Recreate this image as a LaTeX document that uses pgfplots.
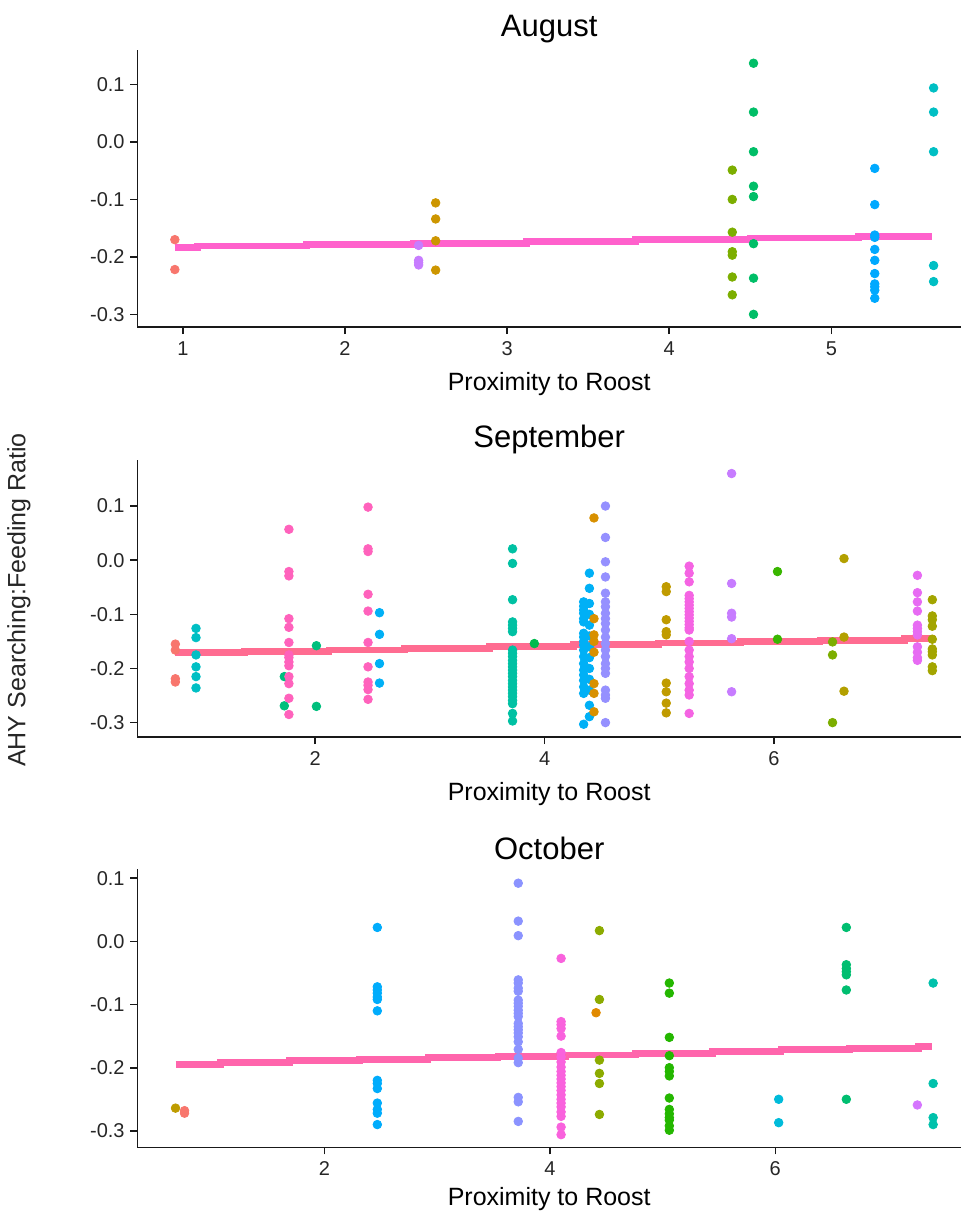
\documentclass[border=0pt]{standalone}
\usepackage{fontspec}
\setmainfont{Liberation Sans}
\usepackage{pgfplots}
\pgfplotsset{compat=1.18}

\definecolor{cF8766D}{HTML}{F8766D}
\definecolor{cC77CFF}{HTML}{C77CFF}
\definecolor{cCD9600}{HTML}{CD9600}
\definecolor{c7CAE00}{HTML}{7CAE00}
\definecolor{c00BE67}{HTML}{00BE67}
\definecolor{c00A9FF}{HTML}{00A9FF}
\definecolor{c00BFC4}{HTML}{00BFC4}
\definecolor{cFF61CC}{HTML}{FF61CC}
\definecolor{c00BF7D}{HTML}{00BF7D}
\definecolor{cFF62BC}{HTML}{FF62BC}
\definecolor{c00B0F6}{HTML}{00B0F6}
\definecolor{c00C1A3}{HTML}{00C1A3}
\definecolor{c00BB4E}{HTML}{00BB4E}
\definecolor{cD89000}{HTML}{D89000}
\definecolor{c9590FF}{HTML}{9590FF}
\definecolor{cC09B00}{HTML}{C09B00}
\definecolor{cF564E3}{HTML}{F564E3}
\definecolor{c39B600}{HTML}{39B600}
\definecolor{cB3A000}{HTML}{B3A000}
\definecolor{cE76BF3}{HTML}{E76BF3}
\definecolor{cA3A500}{HTML}{A3A500}
\definecolor{cFF6C91}{HTML}{FF6C91}
\definecolor{cBE9C00}{HTML}{BE9C00}
\definecolor{c00ACFC}{HTML}{00ACFC}
\definecolor{c8B93FF}{HTML}{8B93FF}
\definecolor{cF962DD}{HTML}{F962DD}
\definecolor{c8CAB00}{HTML}{8CAB00}
\definecolor{cE18A00}{HTML}{E18A00}
\definecolor{c24B700}{HTML}{24B700}
\definecolor{c00BBDA}{HTML}{00BBDA}
\definecolor{c00BE70}{HTML}{00BE70}
\definecolor{cD575FE}{HTML}{D575FE}
\definecolor{c00C1AB}{HTML}{00C1AB}
\definecolor{cFF65AC}{HTML}{FF65AC}

\pgfplotsset{
  panel/.style={
    scale only axis, width=411.8pt, height=138.5pt,
    axis lines=left, axis line style={-, line width=0.8pt, black!90},
    tick align=outside, major tick length=3.5pt,
    tick style={line width=0.8pt, black!90},
    /pgf/number format/assume math mode=true,
    ticklabel style={font=\fontsize{10}{12}\selectfont, text=black!85},
    yticklabel style={inner sep=0pt, xshift=-2.7pt},
    xticklabel style={inner sep=0pt, yshift=-3.5pt},
    title style={font=\fontsize{15.5}{18}\selectfont, at={(0.5,1)}, anchor=center, yshift=4.5pt},
    xlabel style={font=\fontsize{12.5}{15}\selectfont, at={(0.5,0)}, anchor=center, yshift=-28.3pt},
    xlabel={Proximity to Roost},
    ytick={-0.3,-0.2,-0.1,0,0.1}, yticklabels={-0.3,-0.2,-0.1,0.0,0.1},
    mark size=2.15pt,
  },
  pts/.style={only marks, mark=*, color=#1, mark options={draw=none, fill=#1}},
  fit/.style={const plot, line width=3.4pt, color=#1, mark=none},
}

\begin{document}
\begin{tikzpicture}
\useasboundingbox (-68.7pt,25pt) rectangle (412.3pt,-581pt);

% ---------------- August ----------------
\begin{axis}[panel, at={(0pt,0pt)}, anchor=north west,
  title={August}, xmin=0.719, xmax=5.80, ymin=-0.322, ymax=0.160,
  xtick={1,2,3,4,5}, xticklabels={1,2,3,4,5}]
\addplot[fit=cFF61CC] coordinates {(0.95,-0.184) (1.09,-0.181) (1.76,-0.178) (2.42,-0.176) (3.12,-0.173) (3.79,-0.170) (4.50,-0.167) (5.17,-0.165) (5.62,-0.165)};
\addplot[pts=cF8766D] coordinates {(0.95,-0.170) (0.95,-0.222)};
\addplot[pts=cC77CFF] coordinates {(2.454,-0.180) (2.454,-0.206) (2.454,-0.210) (2.454,-0.214)};
\addplot[pts=cCD9600] coordinates {(2.559,-0.106) (2.559,-0.134) (2.559,-0.172) (2.559,-0.223)};
\addplot[pts=c7CAE00] coordinates {(4.389,-0.049) (4.389,-0.100) (4.389,-0.157) (4.389,-0.191) (4.389,-0.197) (4.389,-0.235) (4.389,-0.266)};
\addplot[pts=c00BE67] coordinates {(4.52,0.137) (4.52,0.052) (4.52,-0.017) (4.52,-0.077) (4.52,-0.095) (4.52,-0.177) (4.52,-0.237) (4.52,-0.300)};
\addplot[pts=c00A9FF] coordinates {(5.268,-0.046) (5.268,-0.109) (5.268,-0.162) (5.268,-0.166) (5.268,-0.187) (5.268,-0.206) (5.268,-0.229) (5.268,-0.247) (5.268,-0.252) (5.268,-0.258) (5.268,-0.272)};
\addplot[pts=c00BFC4] coordinates {(5.631,0.094) (5.631,0.052) (5.631,-0.017) (5.631,-0.215) (5.631,-0.243)};
\end{axis}

% ---------------- September ----------------
\begin{axis}[panel, at={(0pt,-205pt)}, anchor=north west,
  title={September}, xmin=0.449, xmax=7.63, ymin=-0.3266, ymax=0.185,
  xtick={2,4,6}, xticklabels={2,4,6}]
\addplot[fit=cFF6C91] coordinates {(0.78,-0.171) (1.38,-0.168) (2.12,-0.166) (2.78,-0.163) (3.52,-0.159) (4.25,-0.156) (4.99,-0.153) (5.71,-0.150) (6.40,-0.148) (7.14,-0.145) (7.40,-0.145)};
\addplot[pts=cF8766D] coordinates {(0.78,-0.155) (0.78,-0.166) (0.78,-0.219) (0.78,-0.225)};
\addplot[pts=c00BFC4] coordinates {(0.96,-0.126) (0.96,-0.143) (0.96,-0.175) (0.96,-0.197) (0.96,-0.215) (0.96,-0.236)};
\addplot[pts=c00BF7D] coordinates {(1.73,-0.215) (1.73,-0.269) (2.01,-0.158) (2.01,-0.270)};
\addplot[pts=cFF62BC] coordinates {(1.77,0.057) (1.77,-0.021) (1.77,-0.029) (1.77,-0.108) (1.77,-0.124) (1.77,-0.152) (1.77,-0.175) (1.77,-0.180) (1.77,-0.188) (1.77,-0.195) (1.77,-0.215) (1.77,-0.228) (1.77,-0.255) (1.77,-0.285)
 (2.46,0.098) (2.46,0.021) (2.46,0.016) (2.46,-0.063) (2.46,-0.094) (2.46,-0.152) (2.46,-0.197) (2.46,-0.225) (2.46,-0.231) (2.46,-0.239) (2.46,-0.257)};
\addplot[pts=c00B0F6] coordinates {(2.56,-0.097) (2.56,-0.137) (2.56,-0.191) (2.56,-0.227)};
\addplot[pts=c00C1A3] coordinates {(3.72,0.021) (3.72,-0.006) (3.72,-0.073) (3.72,-0.114) (3.72,-0.120) (3.72,-0.126) (3.72,-0.132) (3.72,-0.166) (3.72,-0.172) (3.72,-0.178) (3.72,-0.185) (3.72,-0.191) (3.72,-0.197) (3.72,-0.203) (3.72,-0.209) (3.72,-0.215) (3.72,-0.222) (3.72,-0.228) (3.72,-0.234) (3.72,-0.240) (3.72,-0.246) (3.72,-0.252) (3.72,-0.259) (3.72,-0.265) (3.72,-0.283) (3.72,-0.297)};
\addplot[pts=c00BB4E] coordinates {(3.91,-0.154)};
\addplot[pts=c00B0F6] coordinates {(4.34,-0.077) (4.34,-0.085) (4.34,-0.092) (4.34,-0.098) (4.34,-0.108) (4.34,-0.114) (4.34,-0.135) (4.34,-0.142) (4.34,-0.150) (4.34,-0.157) (4.34,-0.166) (4.34,-0.178) (4.34,-0.191) (4.34,-0.203) (4.34,-0.212) (4.34,-0.222) (4.34,-0.234) (4.34,-0.246) (4.34,-0.303)
 (4.39,-0.024) (4.39,-0.052) (4.39,-0.080) (4.39,-0.100) (4.39,-0.120) (4.39,-0.140) (4.39,-0.160) (4.39,-0.180) (4.39,-0.200) (4.39,-0.220) (4.39,-0.240) (4.39,-0.268) (4.39,-0.289)};
\addplot[pts=cD89000] coordinates {(4.43,0.078) (4.43,-0.108) (4.43,-0.138) (4.43,-0.150) (4.43,-0.170) (4.43,-0.228) (4.43,-0.246) (4.43,-0.280)};
\addplot[pts=c9590FF] coordinates {(4.53,0.100) (4.53,0.042) (4.53,-0.003) (4.53,-0.031) (4.53,-0.061) (4.53,-0.077) (4.53,-0.086) (4.53,-0.098) (4.53,-0.108) (4.53,-0.117) (4.53,-0.129) (4.53,-0.142) (4.53,-0.154) (4.53,-0.166) (4.53,-0.178) (4.53,-0.191) (4.53,-0.200) (4.53,-0.209) (4.53,-0.240) (4.53,-0.249) (4.53,-0.255) (4.53,-0.300)};
\addplot[pts=cC09B00] coordinates {(5.06,-0.049) (5.06,-0.058) (5.06,-0.110) (5.06,-0.132) (5.06,-0.138) (5.06,-0.227) (5.06,-0.243) (5.06,-0.264) (5.06,-0.282)};
\addplot[pts=cF564E3] coordinates {(5.26,-0.011) (5.26,-0.024) (5.26,-0.040) (5.26,-0.065) (5.26,-0.071) (5.26,-0.077) (5.26,-0.083) (5.26,-0.089) (5.26,-0.095) (5.26,-0.101) (5.26,-0.107) (5.26,-0.113) (5.26,-0.119) (5.26,-0.125) (5.26,-0.129) (5.26,-0.150) (5.26,-0.166) (5.26,-0.178) (5.26,-0.188) (5.26,-0.200) (5.26,-0.215) (5.26,-0.228) (5.26,-0.240) (5.26,-0.249) (5.26,-0.283)};
\addplot[pts=cC77CFF] coordinates {(5.63,0.160) (5.63,-0.043) (5.63,-0.098) (5.63,-0.105) (5.63,-0.145) (5.63,-0.243)};
\addplot[pts=c39B600] coordinates {(6.03,-0.021) (6.03,-0.146)};
\addplot[pts=c7CAE00] coordinates {(6.51,-0.151) (6.51,-0.175) (6.51,-0.300)};
\addplot[pts=cB3A000] coordinates {(6.61,0.003) (6.61,-0.142) (6.61,-0.242)};
\addplot[pts=cE76BF3] coordinates {(7.25,-0.028) (7.25,-0.060) (7.25,-0.077) (7.25,-0.094) (7.25,-0.120) (7.25,-0.126) (7.25,-0.132) (7.25,-0.138) (7.25,-0.160) (7.25,-0.170) (7.25,-0.180) (7.25,-0.185)};
\addplot[pts=cA3A500] coordinates {(7.38,-0.073) (7.38,-0.103) (7.38,-0.110) (7.38,-0.122) (7.38,-0.146) (7.38,-0.164) (7.38,-0.169) (7.38,-0.175) (7.38,-0.197) (7.38,-0.204)};
\end{axis}

% ---------------- October ----------------
\begin{axis}[panel, at={(0pt,-409.65pt)}, anchor=north west, height=139pt,
  title={October}, xmin=0.342, xmax=7.647, ymin=-0.326, ymax=0.114,
  xtick={2,4,6}, xticklabels={2,4,6},
  xlabel style={yshift=2.5pt}]
\addplot[fit=cFF65AC] coordinates {(0.68,-0.195) (1.08,-0.192) (1.69,-0.189) (2.31,-0.187) (2.92,-0.184) (3.54,-0.182) (4.14,-0.180) (4.76,-0.177) (5.44,-0.174) (6.05,-0.171) (6.66,-0.169) (7.27,-0.166) (7.39,-0.166)};
\addplot[pts=cBE9C00] coordinates {(0.68,-0.264)};
\addplot[pts=cF8766D] coordinates {(0.76,-0.268) (0.76,-0.272)};
\addplot[pts=c00ACFC] coordinates {(2.47,0.022) (2.47,-0.072) (2.47,-0.077) (2.47,-0.082) (2.47,-0.088) (2.47,-0.092) (2.47,-0.110) (2.47,-0.220) (2.47,-0.225) (2.47,-0.233) (2.47,-0.256) (2.47,-0.266) (2.47,-0.272) (2.47,-0.290)};
\addplot[pts=c8B93FF] coordinates {(3.72,0.092) (3.72,0.032) (3.72,0.009) (3.72,-0.061) (3.72,-0.066) (3.72,-0.074) (3.72,-0.079) (3.72,-0.093) (3.72,-0.098) (3.72,-0.103) (3.72,-0.109) (3.72,-0.114) (3.72,-0.119) (3.72,-0.130) (3.72,-0.135) (3.72,-0.140) (3.72,-0.145) (3.72,-0.151) (3.72,-0.159) (3.72,-0.171) (3.72,-0.185) (3.72,-0.192) (3.72,-0.247) (3.72,-0.254) (3.72,-0.285)};
\addplot[pts=cF962DD] coordinates {(4.10,-0.027) (4.10,-0.127) (4.10,-0.132) (4.10,-0.138) (4.10,-0.150) (4.10,-0.176) (4.10,-0.183) (4.10,-0.191) (4.10,-0.199) (4.10,-0.206) (4.10,-0.212) (4.10,-0.218) (4.10,-0.224) (4.10,-0.230) (4.10,-0.236) (4.10,-0.243) (4.10,-0.250) (4.10,-0.256) (4.10,-0.262) (4.10,-0.270) (4.10,-0.277) (4.10,-0.294) (4.10,-0.306)};
\addplot[pts=c8CAB00] coordinates {(4.44,0.017) (4.44,-0.092) (4.44,-0.188) (4.44,-0.209) (4.44,-0.225) (4.44,-0.274)};
\addplot[pts=cE18A00] coordinates {(4.41,-0.113)};
\addplot[pts=c24B700] coordinates {(5.06,-0.066) (5.06,-0.082) (5.06,-0.152) (5.06,-0.181) (5.06,-0.200) (5.06,-0.206) (5.06,-0.213) (5.06,-0.248) (5.06,-0.266) (5.06,-0.273) (5.06,-0.279) (5.06,-0.283) (5.06,-0.292) (5.06,-0.299)};
\addplot[pts=c00BBDA] coordinates {(6.03,-0.250) (6.03,-0.287)};
\addplot[pts=c00BE70] coordinates {(6.63,0.022) (6.63,-0.037) (6.63,-0.043) (6.63,-0.048) (6.63,-0.053) (6.63,-0.077) (6.63,-0.250)};
\addplot[pts=cD575FE] coordinates {(7.26,-0.259)};
\addplot[pts=c00C1AB] coordinates {(7.40,-0.066) (7.40,-0.225) (7.40,-0.279) (7.40,-0.290)};
\end{axis}

\node[rotate=90, font=\fontsize{12.5}{15}\selectfont, text=black!85] at (-59.2pt,-275pt) {AHY Searching:Feeding Ratio};
\end{tikzpicture}
\end{document}
